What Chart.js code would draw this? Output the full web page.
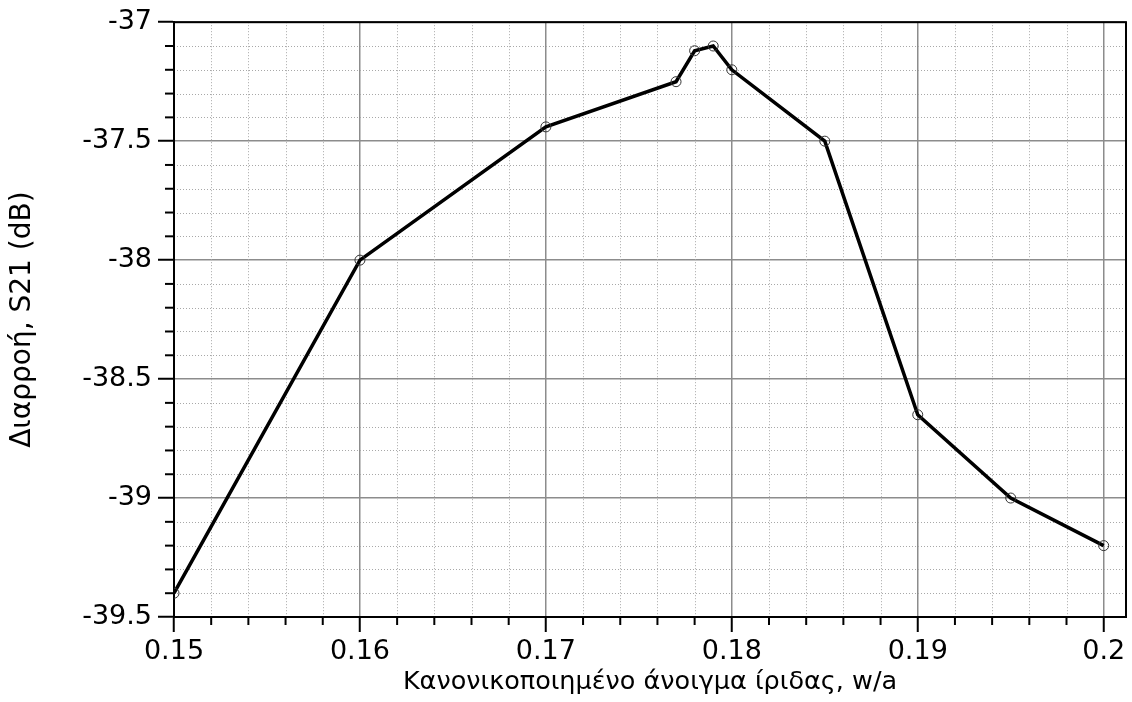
<!DOCTYPE html>
<html>
<head>
<meta charset="utf-8">
<script src="https://cdn.jsdelivr.net/npm/chart.js@4/dist/chart.umd.min.js"></script>
<style>
  body { margin: 0; background: #fff; }
  #wrap { width: 1132px; height: 702px; }
</style>
</head>
<body>
<div id="wrap"><canvas id="chart" width="1132" height="702"></canvas></div>
<script>
'use strict';

// normalised iris opening w/a
var widths = [0.15, 0.16, 0.17, 0.177, 0.178, 0.179, 0.18, 0.185, 0.19, 0.195, 0.2];
// leakage S21 in dB
var leakage = [-39.4, -38.0, -37.44, -37.25, -37.12, -37.10, -37.2, -37.5, -38.65, -39.0, -39.2];

var xMajorTicks = [0.15, 0.16, 0.17, 0.18, 0.19, 0.2];
var yMajorTicks = [-37, -37.5, -38, -38.5, -39, -39.5];
var xTitle = 'Κανονικοποιημένο άνοιγμα ίριδας, w/a';
var yTitle = 'Διαρροή, S21 (dB)';

var points = [];
for (var i = 0; i < widths.length; i++) {
  points.push({x: widths[i], y: leakage[i]});
}

function isMajor(value, majors) {
  for (var m = 0; m < majors.length; m++) {
    if (Math.abs(value - majors[m]) < 1e-6) return true;
  }
  return false;
}

// every 0.002 on x, every 0.1 on y
function minorSteps(from, to, step) {
  var out = [];
  var n = Math.round((to - from) / step);
  for (var k = 0; k <= n; k++) out.push(+(from + k * step).toFixed(4));
  return out;
}
var xMinor = minorSteps(0.15, 0.2, 0.002);
var yMinor = minorSteps(-39.5, -37, 0.1);

// dotted minor grid lines, short minor tick marks and the frame
var minorGrid = {
  id: 'minorGrid',
  beforeDatasetsDraw: function(chart) {
    var ctx = chart.ctx;
    var area = chart.chartArea;
    var xs = chart.scales.x;
    var ys = chart.scales.y;
    ctx.save();
    ctx.strokeStyle = '#a8a8a8';
    ctx.lineWidth = 1;
    ctx.setLineDash([1, 2]);
    xMinor.forEach(function(v) {
      if (isMajor(v, xMajorTicks)) return;
      var px = Math.round(xs.getPixelForValue(v)) + 0.5;
      ctx.beginPath();
      ctx.moveTo(px, area.top);
      ctx.lineTo(px, area.bottom);
      ctx.stroke();
    });
    yMinor.forEach(function(v) {
      if (isMajor(v, yMajorTicks)) return;
      var py = Math.round(ys.getPixelForValue(v)) + 0.5;
      ctx.beginPath();
      ctx.moveTo(area.left, py);
      ctx.lineTo(area.right, py);
      ctx.stroke();
    });
    ctx.setLineDash([]);
    ctx.strokeStyle = '#000';
    ctx.lineWidth = 2;
    xMinor.forEach(function(v) {
      if (isMajor(v, xMajorTicks)) return;
      var px = xs.getPixelForValue(v);
      ctx.beginPath();
      ctx.moveTo(px, area.bottom);
      ctx.lineTo(px, area.bottom + 8);
      ctx.stroke();
    });
    yMinor.forEach(function(v) {
      if (isMajor(v, yMajorTicks)) return;
      var py = ys.getPixelForValue(v);
      ctx.beginPath();
      ctx.moveTo(area.left, py);
      ctx.lineTo(area.left - 9, py);
      ctx.stroke();
    });
    ctx.strokeRect(area.left, area.top, area.right - area.left, area.bottom - area.top);
    ctx.restore();
  }
};

var tickFont = {family: "'DejaVu Sans', sans-serif", size: 27};

new Chart(document.getElementById('chart').getContext('2d'), {
  type: 'line',
  data: {
    datasets: [{
      data: points,
      borderColor: '#000',
      borderWidth: 3.5,
      pointRadius: 5,
      pointBorderWidth: 1,
      pointBorderColor: '#333',
      pointBackgroundColor: 'rgba(255,255,255,0)',
      tension: 0
    }]
  },
  options: {
    responsive: false,
    animation: false,
    layout: {padding: {top: 18, right: 6, left: 0, bottom: 0}},
    plugins: {legend: {display: false}, tooltip: {enabled: false}},
    scales: {
      x: {
        type: 'linear',
        min: 0.15,
        max: 0.2012,
        afterBuildTicks: function(scale) {
          scale.ticks = xMajorTicks.map(function(v) { return {value: v}; });
        },
        afterFit: function(scale) { scale.height = 85; },
        ticks: {
          font: tickFont,
          color: '#000',
          padding: 4,
          maxRotation: 0,
          callback: function(v) { return String(+v.toFixed(3)); }
        },
        grid: {color: '#8c8c8c', lineWidth: 1.5, tickLength: 15, tickColor: '#000', tickWidth: 2},
        border: {color: '#000', width: 2},
        title: {display: true, text: xTitle, font: {family: "'DejaVu Sans', sans-serif", size: 25.5}, color: '#000', padding: {top: 0, bottom: 4}}
      },
      y: {
        min: -39.5,
        max: -37,
        afterBuildTicks: function(scale) {
          scale.ticks = yMajorTicks.map(function(v) { return {value: v}; });
        },
        afterFit: function(scale) { scale.width = 174; },
        ticks: {
          font: tickFont,
          color: '#000',
          padding: 6,
          callback: function(v) { return String(+v.toFixed(2)); }
        },
        grid: {color: '#8c8c8c', lineWidth: 1.5, tickLength: 16, tickColor: '#000', tickWidth: 2},
        border: {color: '#000', width: 2},
        title: {display: true, text: yTitle, font: {family: "'DejaVu Sans', sans-serif", size: 28}, color: '#000', padding: {top: 6, bottom: 0}}
      }
    }
  },
  plugins: [minorGrid]
});
</script>
</body>
</html>
